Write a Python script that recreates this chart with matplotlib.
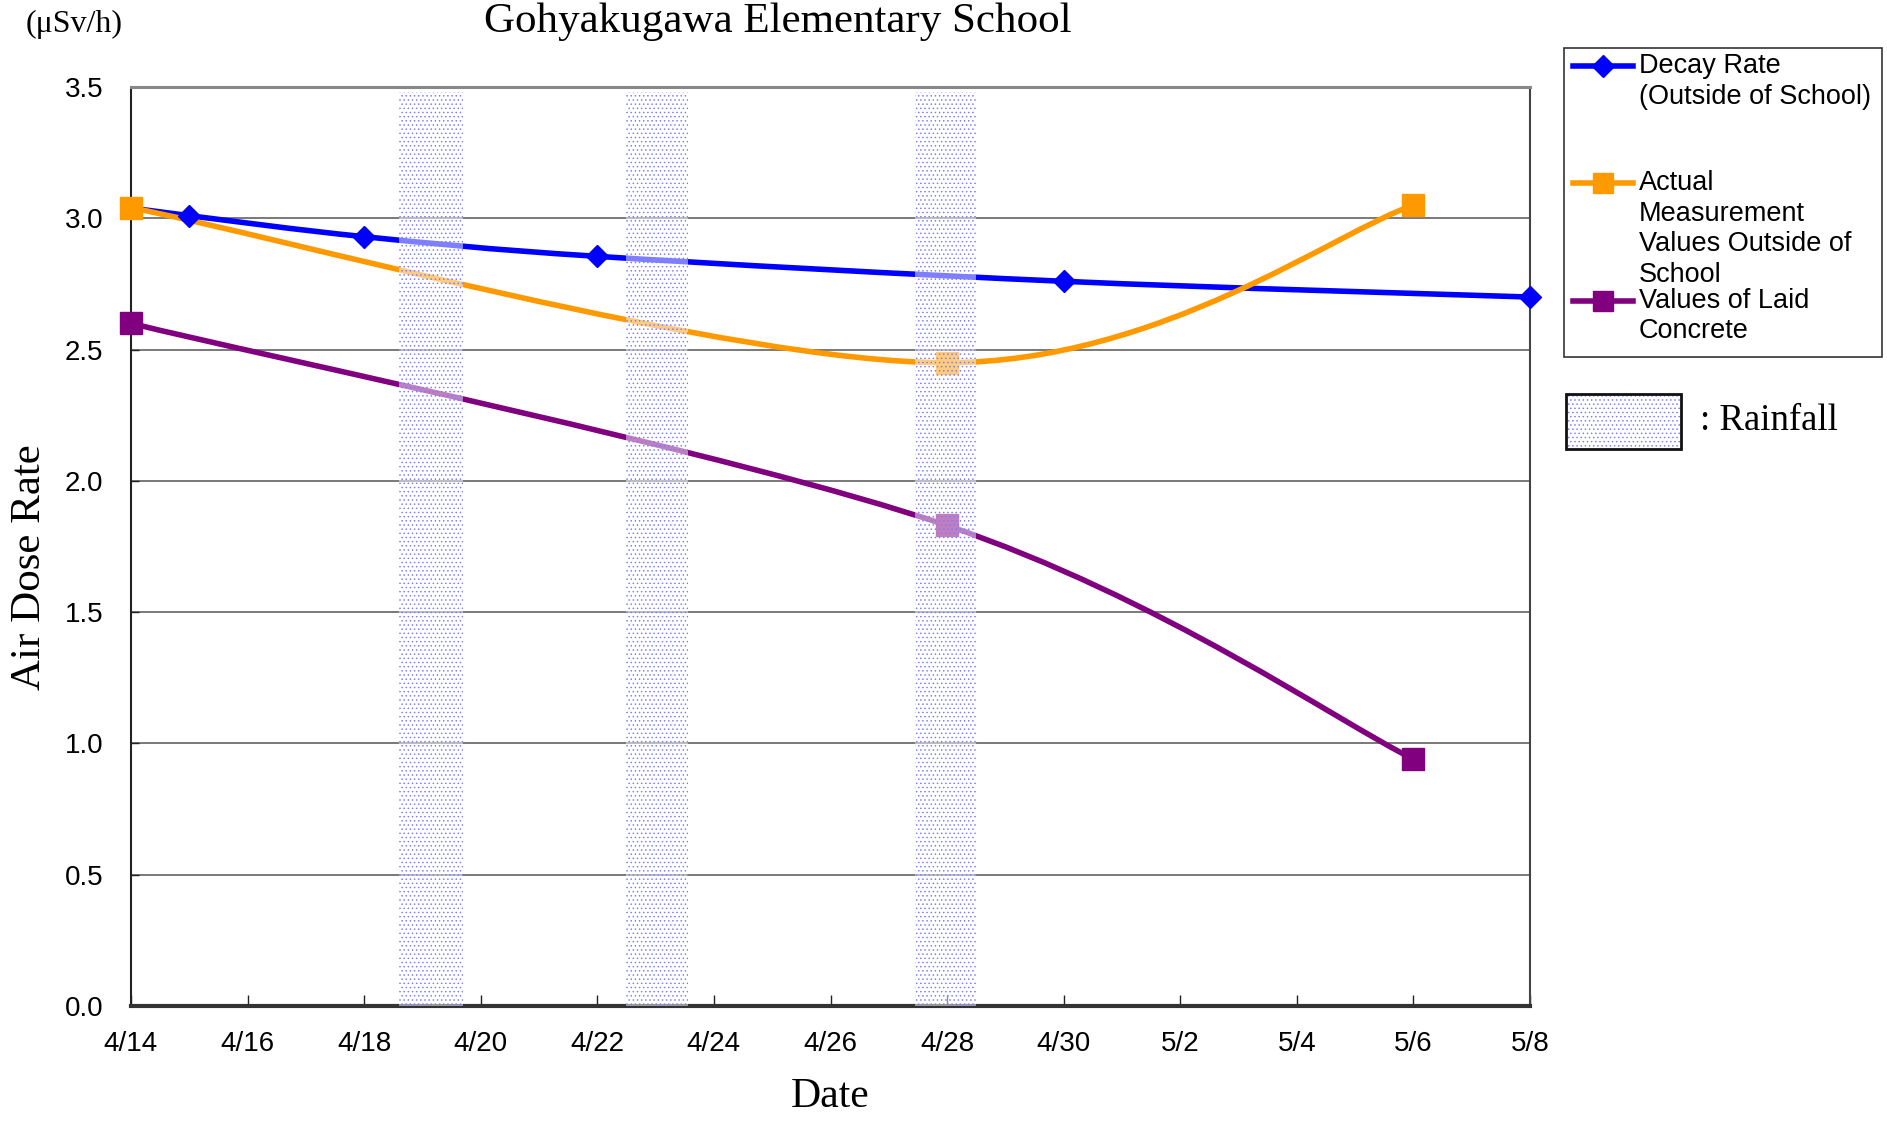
import numpy as np
import matplotlib
matplotlib.use('Agg')
import matplotlib.pyplot as plt
from matplotlib.path import Path
from matplotlib.patches import PathPatch, Rectangle
from matplotlib.lines import Line2D

# x values are days counted from 4/14
tick_days = list(range(0, 25, 2))
tick_labels = ['4/14', '4/16', '4/18', '4/20', '4/22', '4/24', '4/26',
               '4/28', '4/30', '5/2', '5/4', '5/6', '5/8']

decay_days = [0, 1, 4, 8, 16, 24]
decay_vals = [3.04, 3.01, 2.93, 2.855, 2.76, 2.70]

actual_days = [0, 14, 22]
actual_vals = [3.04, 2.45, 3.05]

concrete_days = [0, 14, 22]
concrete_vals = [2.60, 1.83, 0.94]

# rainfall periods (start, end) in days from 4/14
rain_start = [4.6, 8.5, 13.45]
rain_end = [5.7, 9.55, 14.5]

BLUE = '#0000ff'
ORANGE = '#ff9900'
PURPLE = '#800080'
DOTS = '#7a7aff'
W, H = 1887, 1121


def smooth(xs, ys):
    # excel style smoothed line: catmull-rom segments as cubic beziers
    p = np.column_stack([xs, ys]).astype(float)
    n = len(p)
    verts = [p[0]]
    codes = [Path.MOVETO]
    for i in range(n - 1):
        p0 = p[max(i - 1, 0)]
        p1 = p[i]
        p2 = p[i + 1]
        p3 = p[min(i + 2, n - 1)]
        verts += [p1 + (p2 - p0) / 6, p2 - (p3 - p1) / 6, p2]
        codes += [Path.CURVE4] * 3
    return Path(verts, codes)


def fx(x):
    return x / W


def fy(y):
    return 1 - y / H


plt.rcParams['hatch.linewidth'] = 0.55

fig = plt.figure(figsize=(W / 100, H / 100), dpi=100)
ax = fig.add_axes([131 / W, 1 - 1006 / H, (1530 - 131) / W, (1006 - 87) / H])

ax.set_xlim(0, 24)
ax.set_ylim(0, 3.5)

# horizontal grid
for v in np.arange(0.5, 3.5, 0.5):
    ax.axhline(v, color='#555555', lw=1.1, zorder=1)

# lines
for xs, ys, c in [(decay_days, decay_vals, BLUE),
                  (actual_days, actual_vals, ORANGE),
                  (concrete_days, concrete_vals, PURPLE)]:
    ax.add_patch(PathPatch(smooth(xs, ys), fill=False, edgecolor=c, lw=4,
                           capstyle='round', zorder=3))

ax.plot(decay_days, decay_vals, linestyle='none', marker='D', ms=11,
        color=BLUE, zorder=4, clip_on=False)
ax.plot(actual_days, actual_vals, linestyle='none', marker='s', ms=16,
        color=ORANGE, zorder=4, clip_on=False)
ax.plot(concrete_days, concrete_vals, linestyle='none', marker='s', ms=16,
        color=PURPLE, zorder=4, clip_on=False)

# rainfall bands drawn on top
for s, e in zip(rain_start, rain_end):
    ax.axvspan(s, e, ymin=0, ymax=0.995, facecolor=(1, 1, 1, 0.5),
               edgecolor=DOTS, hatch='....', linewidth=0, zorder=5)

# axes styling
ax.spines['top'].set_color('#888888')
ax.spines['top'].set_linewidth(2.2)
ax.spines['right'].set_color('#444444')
ax.spines['right'].set_linewidth(1.5)
ax.spines['left'].set_color('#222222')
ax.spines['left'].set_linewidth(1.5)
ax.spines['bottom'].set_color('#333333')
ax.spines['bottom'].set_linewidth(3)

ax.set_xticks(tick_days)
ax.set_xticklabels(tick_labels, family='Liberation Sans', fontsize=20)
ax.set_yticks(np.arange(0, 3.51, 0.5))
ax.set_yticklabels(['%.1f' % v for v in np.arange(0, 3.51, 0.5)],
                   family='Liberation Sans', fontsize=20)
ax.tick_params(axis='x', direction='in', length=8, width=1, color='#222222', pad=18)
ax.tick_params(axis='y', direction='in', length=6, width=1, color='#222222', pad=20)

# texts
fig.text(fx(778), fy(22), 'Gohyakugawa Elementary School', family='Liberation Serif',
         fontsize=31, ha='center', va='center')
fig.text(fx(74), fy(24), '(μSv/h)', family='Liberation Serif',
         fontsize=23, ha='center', va='center')
fig.text(fx(30), fy(567), 'Air Dose Rate', family='Liberation Serif',
         fontsize=31, rotation=90, ha='center', va='center')
fig.text((fx(131) + fx(1530)) / 2, fy(1097), 'Date', family='Liberation Serif',
         fontsize=30, ha='center', va='center')

# legend box
fig.patches.append(Rectangle((fx(1564), fy(357)), fx(1882) - fx(1564), fy(48) - fy(357),
                             transform=fig.transFigure, facecolor='white',
                             edgecolor='#333333', lw=1.2))
entries = [(BLUE, 'D', 11, ['Decay Rate', '(Outside of School)'], 66),
           (ORANGE, 's', 14, ['Actual', 'Measurement', 'Values Outside of', 'School'], 183),
           (PURPLE, 's', 14, ['Values of Laid', 'Concrete'], 301)]
for c, m, ms, lines, y in entries:
    fig.add_artist(Line2D([fx(1573), fx(1633)], [fy(y), fy(y)], color=c, lw=4,
                          transform=fig.transFigure))
    fig.add_artist(Line2D([fx(1603)], [fy(y)], color=c, marker=m, ms=ms,
                          transform=fig.transFigure))
    for i, t in enumerate(lines):
        fig.text(fx(1639), fy(y + i * 30.5), t, family='Liberation Sans', fontsize=19.5,
                 ha='left', va='center')

# rainfall key
fig.patches.append(Rectangle((fx(1566), fy(449)), fx(1681) - fx(1566), fy(394) - fy(449),
                             transform=fig.transFigure, facecolor='white',
                             edgecolor=DOTS, hatch='....', lw=0))
fig.patches.append(Rectangle((fx(1566), fy(449)), fx(1681) - fx(1566), fy(394) - fy(449),
                             transform=fig.transFigure, fill=False,
                             edgecolor='#111111', lw=2))
fig.text(fx(1700), fy(421), ': Rainfall', family='Liberation Serif', fontsize=26.5,
         ha='left', va='center')

fig.savefig('out.png', dpi=100)
